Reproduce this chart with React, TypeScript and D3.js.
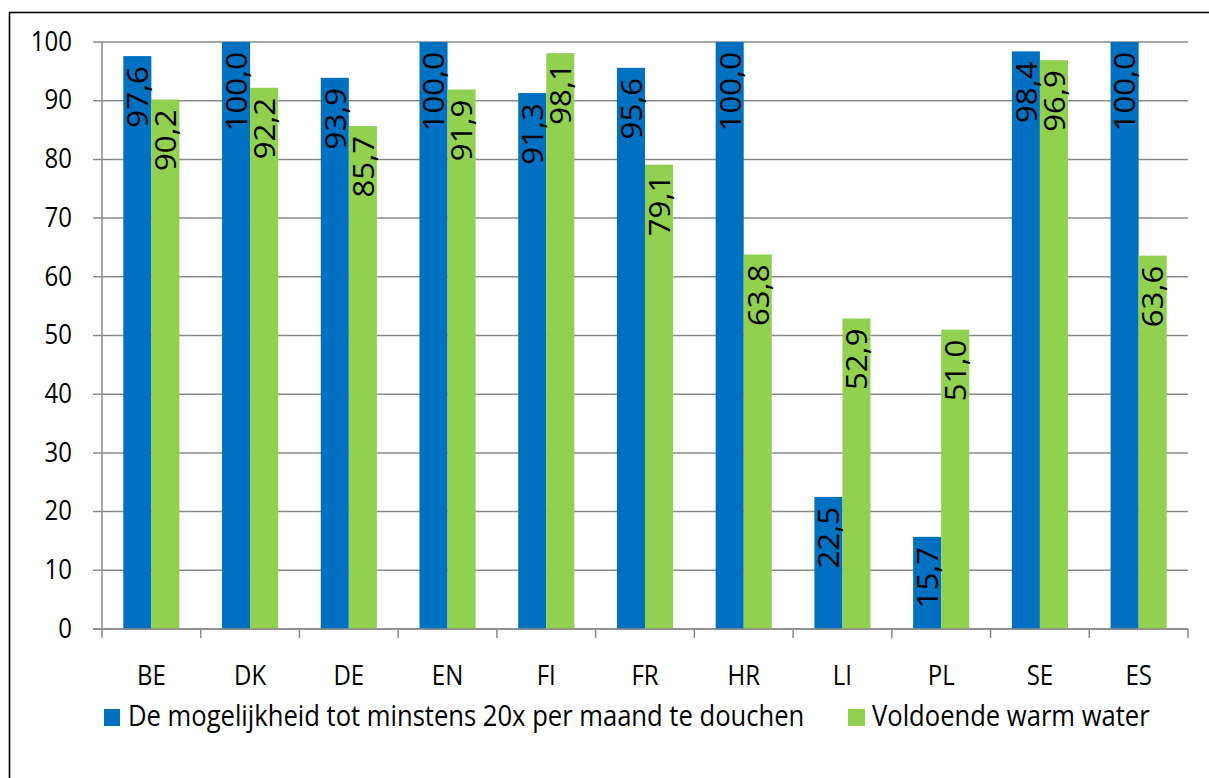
import React from "react";
import * as d3 from "d3";

const categories = ["BE", "DK", "DE", "EN", "FI", "FR", "HR", "LI", "PL", "SE", "ES"];
const douchen = [97.6, 100.0, 93.9, 100.0, 91.3, 95.6, 100.0, 22.5, 15.7, 98.4, 100.0];
const warmWater = [90.2, 92.2, 85.7, 91.9, 98.1, 79.1, 63.8, 52.9, 51.0, 96.9, 63.6];
const seriesNames = [
  "De mogelijkheid tot minstens 20x per maand te douchen",
  "Voldoende warm water",
];
const seriesColors = ["#0070C0", "#92D050"];
const yTicks = [0, 10, 20, 30, 40, 50, 60, 70, 80, 90, 100];

const W = 1209;
const H = 778;
const FONT = "'Open Sans', 'Noto Sans', sans-serif";

export default function App() {
  const left = 102;
  const right = 1188;
  const top = 42;
  const bottom = 629;

  const x0 = d3.scaleBand<string>().domain(categories).range([left, right]).padding(0);
  const x1 = d3
    .scaleBand<string>()
    .domain(["a", "b"])
    .range([0, x0.bandwidth()])
    .paddingInner(0)
    .paddingOuter(0.76);
  const y = d3.scaleLinear().domain([0, 100]).range([bottom, top]);

  const series = [douchen, warmWater];
  const keys = ["a", "b"];
  const fmt = (v: number) => d3.format(".1f")(v).replace(".", ",");
  const grid = "#8a8a8a";
  const sy = 1.1;

  const boundaries = categories.map((c) => x0(c) as number).concat([right]);

  return (
    <svg
      width={W}
      height={H}
      style={{ position: "absolute", left: 0, top: 0, background: "#fff" }}
      fontFamily={FONT}
    >
      <rect x={0} y={0} width={W} height={H} fill="#fff" />
      <rect x={9.5} y={12.5} width={1300} height={900} fill="none" stroke="#000" strokeWidth={1.6} />

      {yTicks.map((t) => (
        <line key={"g" + t} x1={93} x2={right} y1={y(t)} y2={y(t)} stroke={grid} strokeWidth={1.5} />
      ))}
      <line x1={left} x2={left} y1={top} y2={bottom} stroke={grid} strokeWidth={1.5} />
      {boundaries.map((b, i) => (
        <line key={"xt" + i} x1={b} x2={b} y1={bottom} y2={bottom + 9} stroke={grid} strokeWidth={1.5} />
      ))}

      {categories.map((c, i) => (
        <g key={c}>
          {series.map((s, j) => (
            <rect
              key={j}
              x={(x0(c) as number) + (x1(keys[j]) as number)}
              y={y(s[i])}
              width={x1.bandwidth()}
              height={y(0) - y(s[i])}
              fill={seriesColors[j]}
            />
          ))}
        </g>
      ))}

      <line x1={93} x2={right} y1={bottom} y2={bottom} stroke={grid} strokeWidth={1.5} />

      {categories.map((c, i) => (
        <g key={"l" + c}>
          {series.map((s, j) => {
            const cx = (x0(c) as number) + (x1(keys[j]) as number) + x1.bandwidth() / 2;
            return (
              <text
                key={j}
                transform={`translate(${cx},${y(s[i]) + 10}) rotate(-90) scale(1.04,1)`}
                textAnchor="end"
                dy="0.36em"
                fontSize={30}
                fill="#000"
              >
                {fmt(s[i])}
              </text>
            );
          })}
        </g>
      ))}

      {yTicks.map((t) => (
        <text
          key={"yl" + t}
          transform={`translate(72,${y(t) + 8.7}) scale(1,${sy})`}
          textAnchor="end"
          fontSize={24}
          fill="#000"
        >
          {t}
        </text>
      ))}

      {categories.map((c) => (
        <text
          key={"cl" + c}
          transform={`translate(${(x0(c) as number) + x0.bandwidth() / 2},685) scale(1,${sy})`}
          textAnchor="middle"
          fontSize={24}
          fill="#000"
        >
          {c}
        </text>
      ))}

      <rect x={104} y={709} width={16} height={17} fill={seriesColors[0]} />
      <text transform={`translate(128,726) scale(1,1.13)`} fontSize={25.6} fill="#000">
        {seriesNames[0]}
      </text>
      <rect x={848} y={709} width={17} height={17} fill={seriesColors[1]} />
      <text transform={`translate(872,726) scale(1,1.13)`} fontSize={25.6} fill="#000">
        {seriesNames[1]}
      </text>
    </svg>
  );
}
